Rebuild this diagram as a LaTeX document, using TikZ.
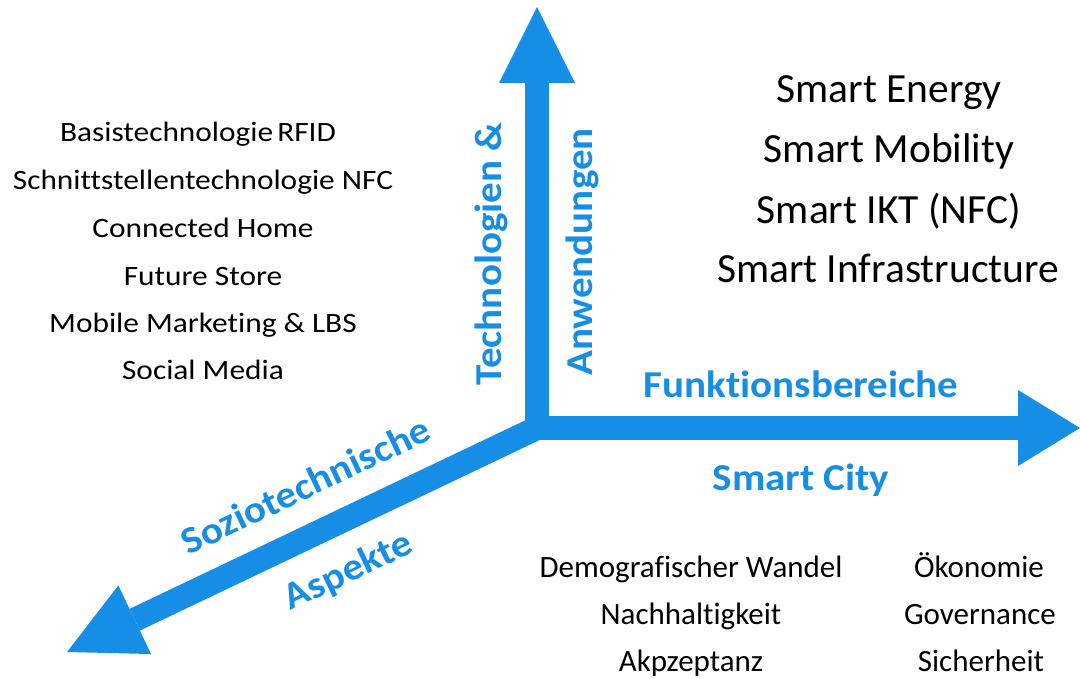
\documentclass[tikz,border=0pt]{standalone}
\usepackage{fontspec}
\setmainfont[Ligatures=NoCommon]{Carlito}
\newfontfamily\wideCal[FakeStretch=1.12,Ligatures=NoCommon]{Carlito}
\newfontfamily\boldCal[FakeStretch=1.08,Ligatures=NoCommon,UprightFont=* Bold]{Carlito}
\usetikzlibrary{calc}
\definecolor{axisblue}{RGB}{22,142,229}
\begin{document}
\begin{tikzpicture}[x=1pt,y=-1pt,
  shaft/.style={line width=24pt,axisblue,line cap=butt},
  head/.style={fill=axisblue},
  leftitem/.style={font=\wideCal\fontsize{28}{28}\selectfont,text height=0.7em,text depth=0.2em,inner sep=0pt,anchor=center},
  smartitem/.style={font=\fontsize{41.5}{41.5}\selectfont,text height=0.7em,text depth=0.2em,inner sep=0pt,anchor=center},
  lowitem/.style={font=\fontsize{31}{31}\selectfont,text height=0.7em,text depth=0.2em,inner sep=0pt,anchor=center},
  axislabel/.style={font=\boldCal\fontsize{38}{38}\selectfont,text=axisblue,text height=0.7em,text depth=0.2em,inner sep=0pt,anchor=center}]
\useasboundingbox (0,0) rectangle (1080,679);
% axes
\coordinate (O) at (537,428);
\coordinate (tipV) at (537,7);
\coordinate (baseV) at (537,83);
\coordinate (tipH) at (1080,428);
\coordinate (baseH) at (1018,428);
\coordinate (tipD) at (67,652);
\coordinate (startV) at (537,440);
\coordinate (startH) at (525,428);
\coordinate (baseD) at ($(tipD)!75pt!(O)$);
\coordinate (startD) at ($(O)!-12pt!(tipD)$);
\draw[shaft] (startV) -- (baseV);
\draw[shaft] (startH) -- (baseH);
\draw[shaft] (startD) -- (baseD);
\fill[head] (tipV) -- ($(baseV)!38pt!90:(O)$) -- ($(baseV)!38pt!-90:(O)$) -- cycle;
\fill[head] (tipH) -- ($(baseH)!38pt!90:(O)$) -- ($(baseH)!38pt!-90:(O)$) -- cycle;
\fill[head] (tipD) -- ($(baseD)!38pt!90:(O)$) -- ($(baseD)!38pt!-90:(O)$) -- cycle;
% axis labels
\node[axislabel,rotate=90] (tech) at (499,254) {Technologien \&};
\node[axislabel,rotate=90] (anw) at (590,252) {Anwendungen};
\node[axislabel] (funk) at (801,395) {Funktionsbereiche};
\node[axislabel] (city) at (801,488) {Smart City};
\node[axislabel,rotate=25.5] (sozio) at (310,495) {Soziotechnische};
\node[axislabel,rotate=25.5] (asp) at (352,579) {Aspekte};
% left list
\node[leftitem] (l1) at (198,139) {Basistechnologie\hspace{-3pt} RFID};
\node[leftitem] (l2) at (203,187) {Schnittstellentechnologie NFC};
\node[leftitem] (l3) at (203,235) {Connected Home};
\node[leftitem] (l4) at (203,283) {Future Store};
\node[leftitem] (l5) at (203,330) {Mobile Marketing \& LBS};
\node[leftitem] (l6) at (203,377) {Social Media};
% smart list
\node[smartitem] (s1) at (889,100) {Smart Energy};
\node[smartitem] (s2) at (889,160) {Smart Mobility};
\node[smartitem] (s3) at (889,221) {Smart IKT (NFC)};
\node[smartitem] (s4) at (888,280) {Smart Infrastructure};
% bottom lists
\node[lowitem] (b1) at (691,575) {Demografischer Wandel};
\node[lowitem] (b2) at (691,622) {Nachhaltigkeit};
\node[lowitem] (b3) at (691,669) {Akpzeptanz};
\node[lowitem] (c1) at (979,575) {Ökonomie};
\node[lowitem] (c2) at (980,622) {Governance};
\node[lowitem] (c3) at (981,669) {Sicherheit};
\end{tikzpicture}
\end{document}
